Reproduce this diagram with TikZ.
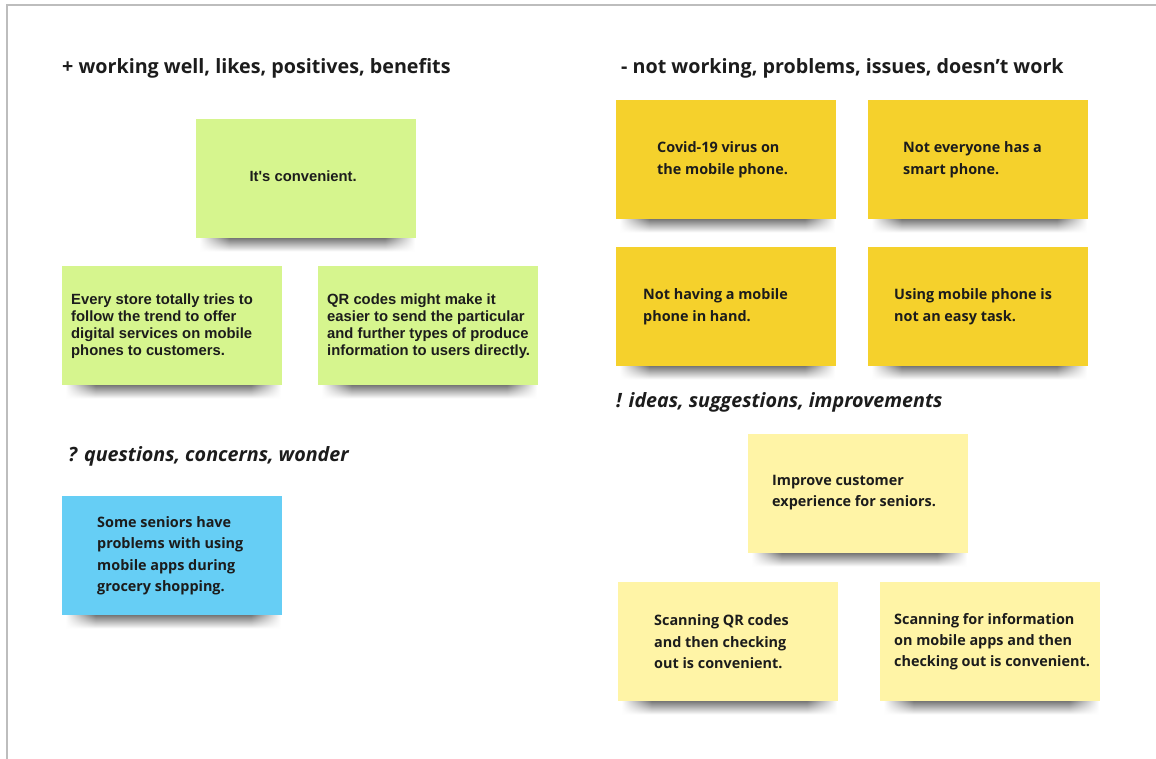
\documentclass[tikz,border=0pt]{standalone}
\usepackage{fontspec}
\usetikzlibrary{calc,fadings}
\newfontfamily\headfont{Open Sans}
\newfontfamily\arialfont{Liberation Sans}

\definecolor{inkc}{HTML}{1C1C1C}
\definecolor{limenote}{HTML}{D6F58E}
\definecolor{ambernote}{HTML}{F5D12C}
\definecolor{palenote}{HTML}{FFF4A6}
\definecolor{skynote}{HTML}{66CEF5}
\definecolor{framec}{HTML}{BDBDBD}

% horizontal mask: opaque over the middle, fading out near both ends
\pgfdeclarehorizontalshading{plateaushade}{100bp}{%
  color(0bp)=(black); color(25bp)=(black); color(32bp)=(white);
  color(68bp)=(white); color(75bp)=(black); color(100bp)=(black)}
\pgfdeclarefading{plateau}{\pgfuseshading{plateaushade}}

\tikzset{
  note/.style={rectangle, inner sep=0pt, minimum width=220pt, minimum height=119pt, anchor=north west},
  heading/.style={anchor=west, inner sep=0pt, text=inkc, font=\headfont\bfseries\fontsize{19.7}{23}\selectfont},
  qheading/.style={heading, font=\headfont\bfseries\itshape\fontsize{19.7}{23}\selectfont},
  sanstext/.style={anchor=west, inner sep=0pt, align=left, text=inkc, font=\headfont\bfseries\fontsize{14.4}{21.3}\selectfont},
  ariatext/.style={anchor=west, inner sep=0pt, align=left, text=inkc, font=\arialfont\bfseries\fontsize{14.8}{17}\selectfont},
  shadowband/.style={top color=black!60, bottom color=white, path fading=plateau},
}

% soft drop shadow along the lower edge of a note
\newcommand\noteshadow[1]{%
  \shade[shadowband] ($(#1.south west)+(4,-2)$) rectangle ($(#1.south east)+(-2,13)$);
}

\begin{document}
\begin{tikzpicture}[x=1pt,y=-1pt]
\useasboundingbox (0,0) rectangle (1156,759);
\fill[white] (0,0) rectangle (1156,759);

% board frame
\draw[framec, line width=2pt] (7,759) -- (7,5) -- (1156,5);

% section headings
\node[heading]  (hpos)  at (62,68)  {+ working well, likes, positives, benefits};
\node[heading]  (hneg)  at (621,68) {- not working, problems, issues, doesn’t work};
\node[qheading] (hques) at (68,456) {? questions, concerns, wonder};
\node[qheading] (hidea) at (616,402) {! ideas, suggestions, improvements};

% note outlines (filled after their shadows)
\node[note] (p1) at (196,119) {};
\node[note] (p2) at (62,266) {};
\node[note] (p3) at (318,266) {};
\node[note] (n1) at (616,100) {};
\node[note] (n2) at (868,100) {};
\node[note] (n3) at (616,247) {};
\node[note] (n4) at (868,247) {};
\node[note] (q1) at (62,496) {};
\node[note] (i1) at (748,434) {};
\node[note] (i2) at (618,582) {};
\node[note] (i3) at (880,582) {};

\foreach \n in {p1,p2,p3,n1,n2,n3,n4,q1,i1,i2,i3}{\noteshadow{\n}}

% paper of each note
\foreach \n/\c in {p1/limenote,p2/limenote,p3/limenote,n1/ambernote,n2/ambernote,n3/ambernote,n4/ambernote,q1/skynote,i1/palenote,i2/palenote,i3/palenote}{
  \fill[\c] (\n.north west) rectangle (\n.south east);
}

% note texts
\node[ariatext, anchor=center] (tp1) at ($(p1.center)+(-3,-2)$) {It's convenient.};
\node[ariatext] (tp2) at ($(p2.west)+(9,0)$) {Every store totally tries to\\follow the trend to offer\\digital services on mobile\\phones to customers.};
\node[ariatext] (tp3) at ($(p3.west)+(9,0)$) {QR codes might make it\\easier to send the particular\\and further types of produce\\information to users directly.};

\node[sanstext] (tn1) at ($(n1.west)+(41,0)$) {Covid-19 virus on\\the mobile phone.};
\node[sanstext] (tn2) at ($(n2.west)+(35,0)$) {Not everyone has a\\smart phone.};
\node[sanstext] (tn3) at ($(n3.west)+(27,0)$) {Not having a mobile\\phone in hand.};
\node[sanstext] (tn4) at ($(n4.west)+(26,0)$) {Using mobile phone is\\not an easy task.};

\node[sanstext] (tq1) at ($(q1.west)+(35,0)$) {Some seniors have\\problems with using\\mobile apps during\\grocery shopping.};

\node[sanstext] (ti1) at ($(i1.west)+(24,-1)$) {Improve customer\\experience for seniors.};
\node[sanstext] (ti2) at ($(i2.west)+(36,0)$) {Scanning QR codes\\and then checking\\out is convenient.};
\node[sanstext] (ti3) at ($(i3.west)+(14,0)$) {Scanning for information\\on mobile apps and then\\checking out is convenient.};
\end{tikzpicture}
\end{document}
